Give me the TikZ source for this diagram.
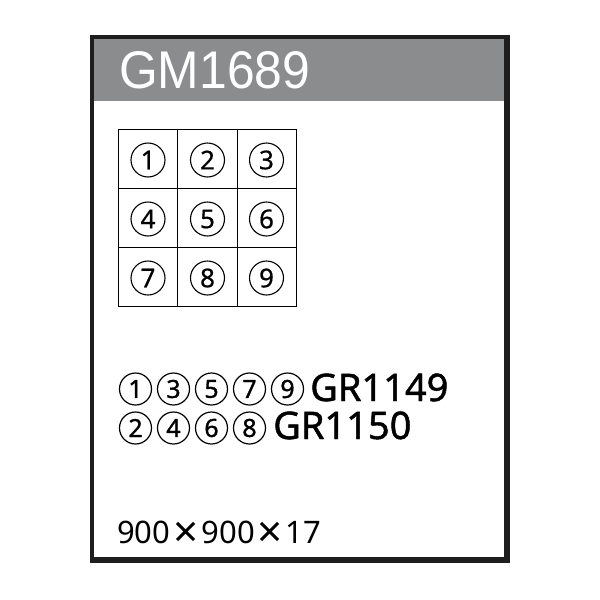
\documentclass[tikz,border=0pt]{standalone}
\usepackage{fontspec}
\usepackage{graphicx}
\setmainfont{Noto Sans}
\newfontfamily\boldish[FakeBold=1.2]{Noto Sans}
\newfontfamily\semibold[FakeBold=0.6]{Noto Sans}
\newfontfamily\headfont{Liberation Sans}
\definecolor{hdrgray}{HTML}{8B8C8E}
\definecolor{frameblk}{HTML}{1E1E1E}
\begin{document}
\begin{tikzpicture}[x=1pt,y=-1pt,
  gridnum/.style={draw=black,line width=1.1pt,circle,inner sep=0pt,minimum size=34pt,font=\semibold\fontsize{26}{26}\selectfont},
  linenum/.style={draw=black,line width=1.2pt,circle,inner sep=0pt,minimum size=32pt,font=\boldish\fontsize{25}{25}\selectfont},
  codetext/.style={anchor=base west,inner sep=0pt,font=\boldish\fontsize{38}{38}\selectfont},
]
\useasboundingbox (0,0) rectangle (600,600);
\fill[white] (0,0) rectangle (600,600);
% frame
\fill[frameblk] (90,35) rectangle (510,563);
\fill[white] (94,39) rectangle (504,557);
\fill[hdrgray] (94,39) rectangle (504,101);
\node[anchor=base west,inner sep=0pt,text=white,font=\headfont\fontsize{53}{53}\selectfont] (title) at (119,88) {\scalebox{0.94}[1]{GM1689}};
% grid
\draw[line width=0.8pt] (118,129) rectangle (296,306);
\draw[line width=0.8pt] (177.5,129) -- (177.5,306) (237,129) -- (237,306)
  (118,188) -- (296,188) (118,247) -- (296,247);
\foreach \n/\cx/\cy in {1/148/160,2/207.5/160,3/266.5/160,4/148/219,5/207.5/219,6/266.5/219,7/148/278,8/207.5/278,9/266.5/278}{
  \node[gridnum] (c\n) at (\cx,\cy) {\n};
}
% legend line 1
\foreach \n/\i in {1/0,3/1,5/2,7/3,9/4}{
  \node[linenum] (a\n) at (135.5+38*\i,389) {\n};
}
\node[codetext] (gr1149) at (310,401) {GR1149};
% legend line 2
\foreach \n/\i in {2/0,4/1,6/2,8/3}{
  \node[linenum] (b\n) at (135.5+38*\i,428) {\n};
}
\node[codetext] (gr1150) at (273,439) {GR1150};
% size
\node[anchor=base west,inner sep=0pt,font=\fontsize{31}{31}\selectfont] (size) at (117,543)
  {900\hspace{3pt}\raisebox{-4pt}{\fontsize{44}{44}\selectfont ×}\hspace{3pt}900\hspace{3pt}\raisebox{-4pt}{\fontsize{44}{44}\selectfont ×}\hspace{3pt}17};
\end{tikzpicture}
\end{document}
